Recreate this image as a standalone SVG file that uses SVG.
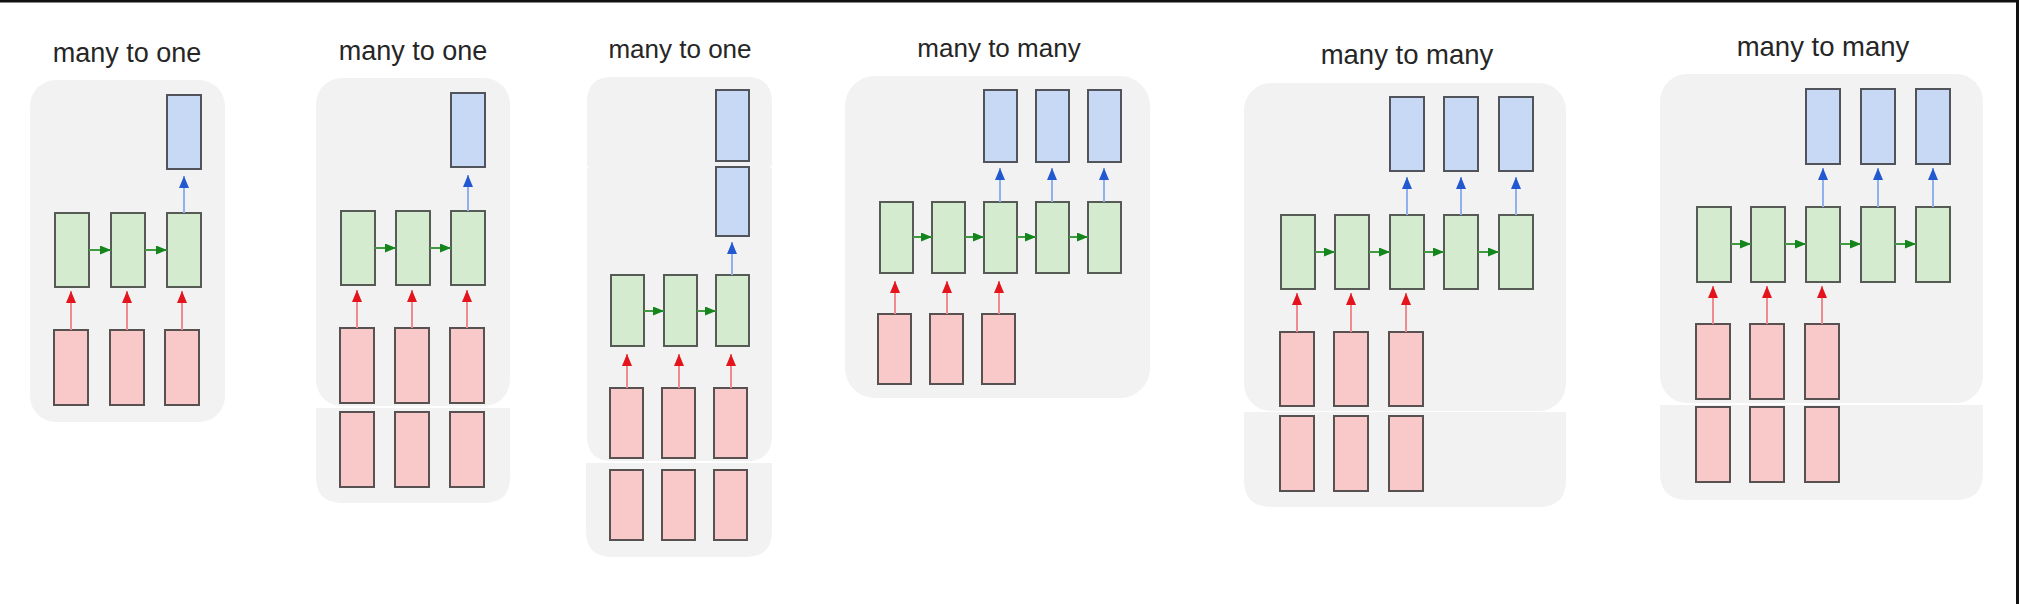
<svg xmlns="http://www.w3.org/2000/svg" width="2019" height="604" viewBox="0 0 2019 604">
<style>
.bg{fill:#ffffff}
.frame{fill:#111111}
.panel{fill:#f2f2f2}
.t{font-family:"Liberation Sans",Arial,sans-serif;fill:#262626;text-anchor:middle}
.in{fill:#f9c8c9;stroke:#575151;stroke-width:2}
.hid{fill:#d4ebcf;stroke:#565c55;stroke-width:2}
.out{fill:#c8d9f6;stroke:#51545a;stroke-width:2}
.ra{stroke:#ef8b8e;stroke-width:2;fill:none;marker-end:url(#hr)}
.ba{stroke:#8fb2ee;stroke-width:2;fill:none;marker-end:url(#hb)}
.ga{stroke:#3f9a40;stroke-width:2;fill:none;marker-end:url(#hg)}
</style>
<defs>
<marker id="hr" markerUnits="userSpaceOnUse" markerWidth="12" markerHeight="10" refX="12" refY="5" orient="auto"><path d="M0,0 L12,5 L0,10 z" fill="#e3141c"/></marker>
<marker id="hb" markerUnits="userSpaceOnUse" markerWidth="12" markerHeight="10" refX="12" refY="5" orient="auto"><path d="M0,0 L12,5 L0,10 z" fill="#2258d0"/></marker>
<marker id="hg" markerUnits="userSpaceOnUse" markerWidth="11" markerHeight="9" refX="11" refY="4.5" orient="auto"><path d="M0,0 L11,4.5 L0,9 z" fill="#14851c"/></marker>
</defs>
<rect class="bg" x="0" y="0" width="2019" height="604"/>
<rect class="frame" x="0" y="0" width="2019" height="2.5"/>
<rect class="frame" x="2016" y="0" width="3" height="604"/>

<!-- Panel backgrounds -->
<g id="panels">
<rect class="panel" x="30" y="80" width="195" height="342" rx="26"/>
<rect class="panel" x="316" y="78" width="194" height="328" rx="26"/>
<path class="panel" d="M316,408 H510 V477 Q510,503 484,503 H342 Q316,503 316,477 Z"/>
<path class="panel" d="M587,167 V102 Q587,77 612,77 H747 Q772,77 772,102 V164 Q772,167 769,167 H590 Q587,167 587,164 Z"/>
<path class="panel" d="M587,170 Q587,167 590,167 H769 Q772,167 772,170 V436 Q772,461 747,461 H612 Q587,461 587,436 Z"/>
<path class="panel" d="M586,463 H772 V531 Q772,557 746,557 H612 Q586,557 586,531 Z"/>
<rect class="panel" x="845" y="76" width="305" height="322" rx="30"/>
<rect class="panel" x="1244" y="83" width="322" height="328" rx="27"/>
<path class="panel" d="M1244,412 H1566 V480 Q1566,507 1539,507 H1271 Q1244,507 1244,480 Z"/>
<rect class="panel" x="1660" y="74" width="323" height="329" rx="27"/>
<path class="panel" d="M1660,405 H1983 V473 Q1983,500 1956,500 H1687 Q1660,500 1660,473 Z"/>
</g>

<!-- Titles -->
<g id="titles">
<text class="t" x="127" y="62" font-size="27">many to one</text>
<text class="t" x="413" y="60" font-size="27">many to one</text>
<text class="t" x="680" y="58" font-size="26">many to one</text>
<text class="t" x="999" y="57" font-size="26">many to many</text>
<text class="t" x="1407" y="64" font-size="27.5">many to many</text>
<text class="t" x="1823" y="56" font-size="27.5">many to many</text>
</g>

<!-- Panel 1 -->
<g id="p1">
<g id="p1-y"><rect class="out" x="167" y="95" width="34" height="74"/></g>
<g id="p1-h1"><rect class="hid" x="55" y="213" width="34" height="74"/></g>
<g id="p1-h2"><rect class="hid" x="111" y="213" width="34" height="74"/></g>
<g id="p1-h3"><rect class="hid" x="167" y="213" width="34" height="74"/></g>
<g id="p1-x1"><rect class="in" x="54" y="330" width="34" height="75"/></g>
<g id="p1-x2"><rect class="in" x="110" y="330" width="34" height="75"/></g>
<g id="p1-x3"><rect class="in" x="165" y="330" width="34" height="75"/></g>
</g>

<!-- Panel 2 -->
<g id="p2">
<g id="p2-y"><rect class="out" x="451" y="93" width="34" height="74"/></g>
<g id="p2-h1"><rect class="hid" x="341" y="211" width="34" height="74"/></g>
<g id="p2-h2"><rect class="hid" x="396" y="211" width="34" height="74"/></g>
<g id="p2-h3"><rect class="hid" x="451" y="211" width="34" height="74"/></g>
<g id="p2-x1"><rect class="in" x="340" y="328" width="34" height="75"/></g>
<g id="p2-x2"><rect class="in" x="395" y="328" width="34" height="75"/></g>
<g id="p2-x3"><rect class="in" x="450" y="328" width="34" height="75"/></g>
<g id="p2-x4"><rect class="in" x="340" y="412" width="34" height="75"/></g>
<g id="p2-x5"><rect class="in" x="395" y="412" width="34" height="75"/></g>
<g id="p2-x6"><rect class="in" x="450" y="412" width="34" height="75"/></g>
</g>

<!-- Panel 3 -->
<g id="p3">
<g id="p3-y1"><rect class="out" x="716" y="90" width="33" height="71"/></g>
<g id="p3-y2"><rect class="out" x="716" y="167" width="33" height="69"/></g>
<g id="p3-h1"><rect class="hid" x="611" y="275" width="33" height="71"/></g>
<g id="p3-h2"><rect class="hid" x="664" y="275" width="33" height="71"/></g>
<g id="p3-h3"><rect class="hid" x="716" y="275" width="33" height="71"/></g>
<g id="p3-x1"><rect class="in" x="610" y="388" width="33" height="70"/></g>
<g id="p3-x2"><rect class="in" x="662" y="388" width="33" height="70"/></g>
<g id="p3-x3"><rect class="in" x="714" y="388" width="33" height="70"/></g>
<g id="p3-x4"><rect class="in" x="610" y="470" width="33" height="70"/></g>
<g id="p3-x5"><rect class="in" x="662" y="470" width="33" height="70"/></g>
<g id="p3-x6"><rect class="in" x="714" y="470" width="33" height="70"/></g>
</g>

<!-- Panel 4 -->
<g id="p4">
<g id="p4-y1"><rect class="out" x="984" y="90" width="33" height="72"/></g>
<g id="p4-y2"><rect class="out" x="1036" y="90" width="33" height="72"/></g>
<g id="p4-y3"><rect class="out" x="1088" y="90" width="33" height="72"/></g>
<g id="p4-h1"><rect class="hid" x="880" y="202" width="33" height="71"/></g>
<g id="p4-h2"><rect class="hid" x="932" y="202" width="33" height="71"/></g>
<g id="p4-h3"><rect class="hid" x="984" y="202" width="33" height="71"/></g>
<g id="p4-h4"><rect class="hid" x="1036" y="202" width="33" height="71"/></g>
<g id="p4-h5"><rect class="hid" x="1088" y="202" width="33" height="71"/></g>
<g id="p4-x1"><rect class="in" x="878" y="314" width="33" height="70"/></g>
<g id="p4-x2"><rect class="in" x="930" y="314" width="33" height="70"/></g>
<g id="p4-x3"><rect class="in" x="982" y="314" width="33" height="70"/></g>
</g>

<!-- Panel 5 -->
<g id="p5">
<g id="p5-y1"><rect class="out" x="1390" y="97" width="34" height="74"/></g>
<g id="p5-y2"><rect class="out" x="1444" y="97" width="34" height="74"/></g>
<g id="p5-y3"><rect class="out" x="1499" y="97" width="34" height="74"/></g>
<g id="p5-h1"><rect class="hid" x="1281" y="215" width="34" height="74"/></g>
<g id="p5-h2"><rect class="hid" x="1335" y="215" width="34" height="74"/></g>
<g id="p5-h3"><rect class="hid" x="1390" y="215" width="34" height="74"/></g>
<g id="p5-h4"><rect class="hid" x="1444" y="215" width="34" height="74"/></g>
<g id="p5-h5"><rect class="hid" x="1499" y="215" width="34" height="74"/></g>
<g id="p5-x1"><rect class="in" x="1280" y="332" width="34" height="74"/></g>
<g id="p5-x2"><rect class="in" x="1334" y="332" width="34" height="74"/></g>
<g id="p5-x3"><rect class="in" x="1389" y="332" width="34" height="74"/></g>
<g id="p5-x4"><rect class="in" x="1280" y="416" width="34" height="75"/></g>
<g id="p5-x5"><rect class="in" x="1334" y="416" width="34" height="75"/></g>
<g id="p5-x6"><rect class="in" x="1389" y="416" width="34" height="75"/></g>
</g>

<!-- Panel 6 -->
<g id="p6">
<g id="p6-y1"><rect class="out" x="1806" y="89" width="34" height="75"/></g>
<g id="p6-y2"><rect class="out" x="1861" y="89" width="34" height="75"/></g>
<g id="p6-y3"><rect class="out" x="1916" y="89" width="34" height="75"/></g>
<g id="p6-h1"><rect class="hid" x="1697" y="207" width="34" height="75"/></g>
<g id="p6-h2"><rect class="hid" x="1751" y="207" width="34" height="75"/></g>
<g id="p6-h3"><rect class="hid" x="1806" y="207" width="34" height="75"/></g>
<g id="p6-h4"><rect class="hid" x="1861" y="207" width="34" height="75"/></g>
<g id="p6-h5"><rect class="hid" x="1916" y="207" width="34" height="75"/></g>
<g id="p6-x1"><rect class="in" x="1696" y="324" width="34" height="75"/></g>
<g id="p6-x2"><rect class="in" x="1750" y="324" width="34" height="75"/></g>
<g id="p6-x3"><rect class="in" x="1805" y="324" width="34" height="75"/></g>
<g id="p6-x4"><rect class="in" x="1696" y="407" width="34" height="75"/></g>
<g id="p6-x5"><rect class="in" x="1750" y="407" width="34" height="75"/></g>
<g id="p6-x6"><rect class="in" x="1805" y="407" width="34" height="75"/></g>
</g>

<!-- Connectors -->
<g id="connectors">
<!-- p1 -->
<line class="ra" x1="71" y1="330" x2="71" y2="291"/>
<line class="ra" x1="127" y1="330" x2="127" y2="291"/>
<line class="ra" x1="182" y1="330" x2="182" y2="291"/>
<line class="ga" x1="89" y1="250" x2="111" y2="250"/>
<line class="ga" x1="145" y1="250" x2="167" y2="250"/>
<line class="ba" x1="184" y1="213" x2="184" y2="176"/>
<!-- p2 -->
<line class="ra" x1="357" y1="328" x2="357" y2="290"/>
<line class="ra" x1="412" y1="328" x2="412" y2="290"/>
<line class="ra" x1="467" y1="328" x2="467" y2="290"/>
<line class="ga" x1="375" y1="248" x2="396" y2="248"/>
<line class="ga" x1="430" y1="248" x2="451" y2="248"/>
<line class="ba" x1="468" y1="211" x2="468" y2="175"/>
<!-- p3 -->
<line class="ra" x1="627" y1="388" x2="627" y2="354"/>
<line class="ra" x1="679" y1="388" x2="679" y2="354"/>
<line class="ra" x1="731" y1="388" x2="731" y2="354"/>
<line class="ga" x1="644" y1="311" x2="664" y2="311"/>
<line class="ga" x1="697" y1="311" x2="716" y2="311"/>
<line class="ba" x1="732" y1="275" x2="732" y2="242"/>
<!-- p4 -->
<line class="ra" x1="895" y1="314" x2="895" y2="281"/>
<line class="ra" x1="947" y1="314" x2="947" y2="281"/>
<line class="ra" x1="999" y1="314" x2="999" y2="281"/>
<line class="ga" x1="913" y1="237" x2="932" y2="237"/>
<line class="ga" x1="965" y1="237" x2="984" y2="237"/>
<line class="ga" x1="1017" y1="237" x2="1036" y2="237"/>
<line class="ga" x1="1069" y1="237" x2="1088" y2="237"/>
<line class="ba" x1="1000" y1="202" x2="1000" y2="168"/>
<line class="ba" x1="1052" y1="202" x2="1052" y2="168"/>
<line class="ba" x1="1104" y1="202" x2="1104" y2="168"/>
<!-- p5 -->
<line class="ra" x1="1297" y1="332" x2="1297" y2="293"/>
<line class="ra" x1="1351" y1="332" x2="1351" y2="293"/>
<line class="ra" x1="1406" y1="332" x2="1406" y2="293"/>
<line class="ga" x1="1315" y1="252" x2="1335" y2="252"/>
<line class="ga" x1="1369" y1="252" x2="1390" y2="252"/>
<line class="ga" x1="1424" y1="252" x2="1444" y2="252"/>
<line class="ga" x1="1478" y1="252" x2="1499" y2="252"/>
<line class="ba" x1="1407" y1="215" x2="1407" y2="177"/>
<line class="ba" x1="1461" y1="215" x2="1461" y2="177"/>
<line class="ba" x1="1516" y1="215" x2="1516" y2="177"/>
<!-- p6 -->
<line class="ra" x1="1713" y1="324" x2="1713" y2="286"/>
<line class="ra" x1="1767" y1="324" x2="1767" y2="286"/>
<line class="ra" x1="1822" y1="324" x2="1822" y2="286"/>
<line class="ga" x1="1731" y1="244" x2="1751" y2="244"/>
<line class="ga" x1="1785" y1="244" x2="1806" y2="244"/>
<line class="ga" x1="1840" y1="244" x2="1861" y2="244"/>
<line class="ga" x1="1895" y1="244" x2="1916" y2="244"/>
<line class="ba" x1="1823" y1="207" x2="1823" y2="168"/>
<line class="ba" x1="1878" y1="207" x2="1878" y2="168"/>
<line class="ba" x1="1933" y1="207" x2="1933" y2="168"/>
</g>
</svg>
